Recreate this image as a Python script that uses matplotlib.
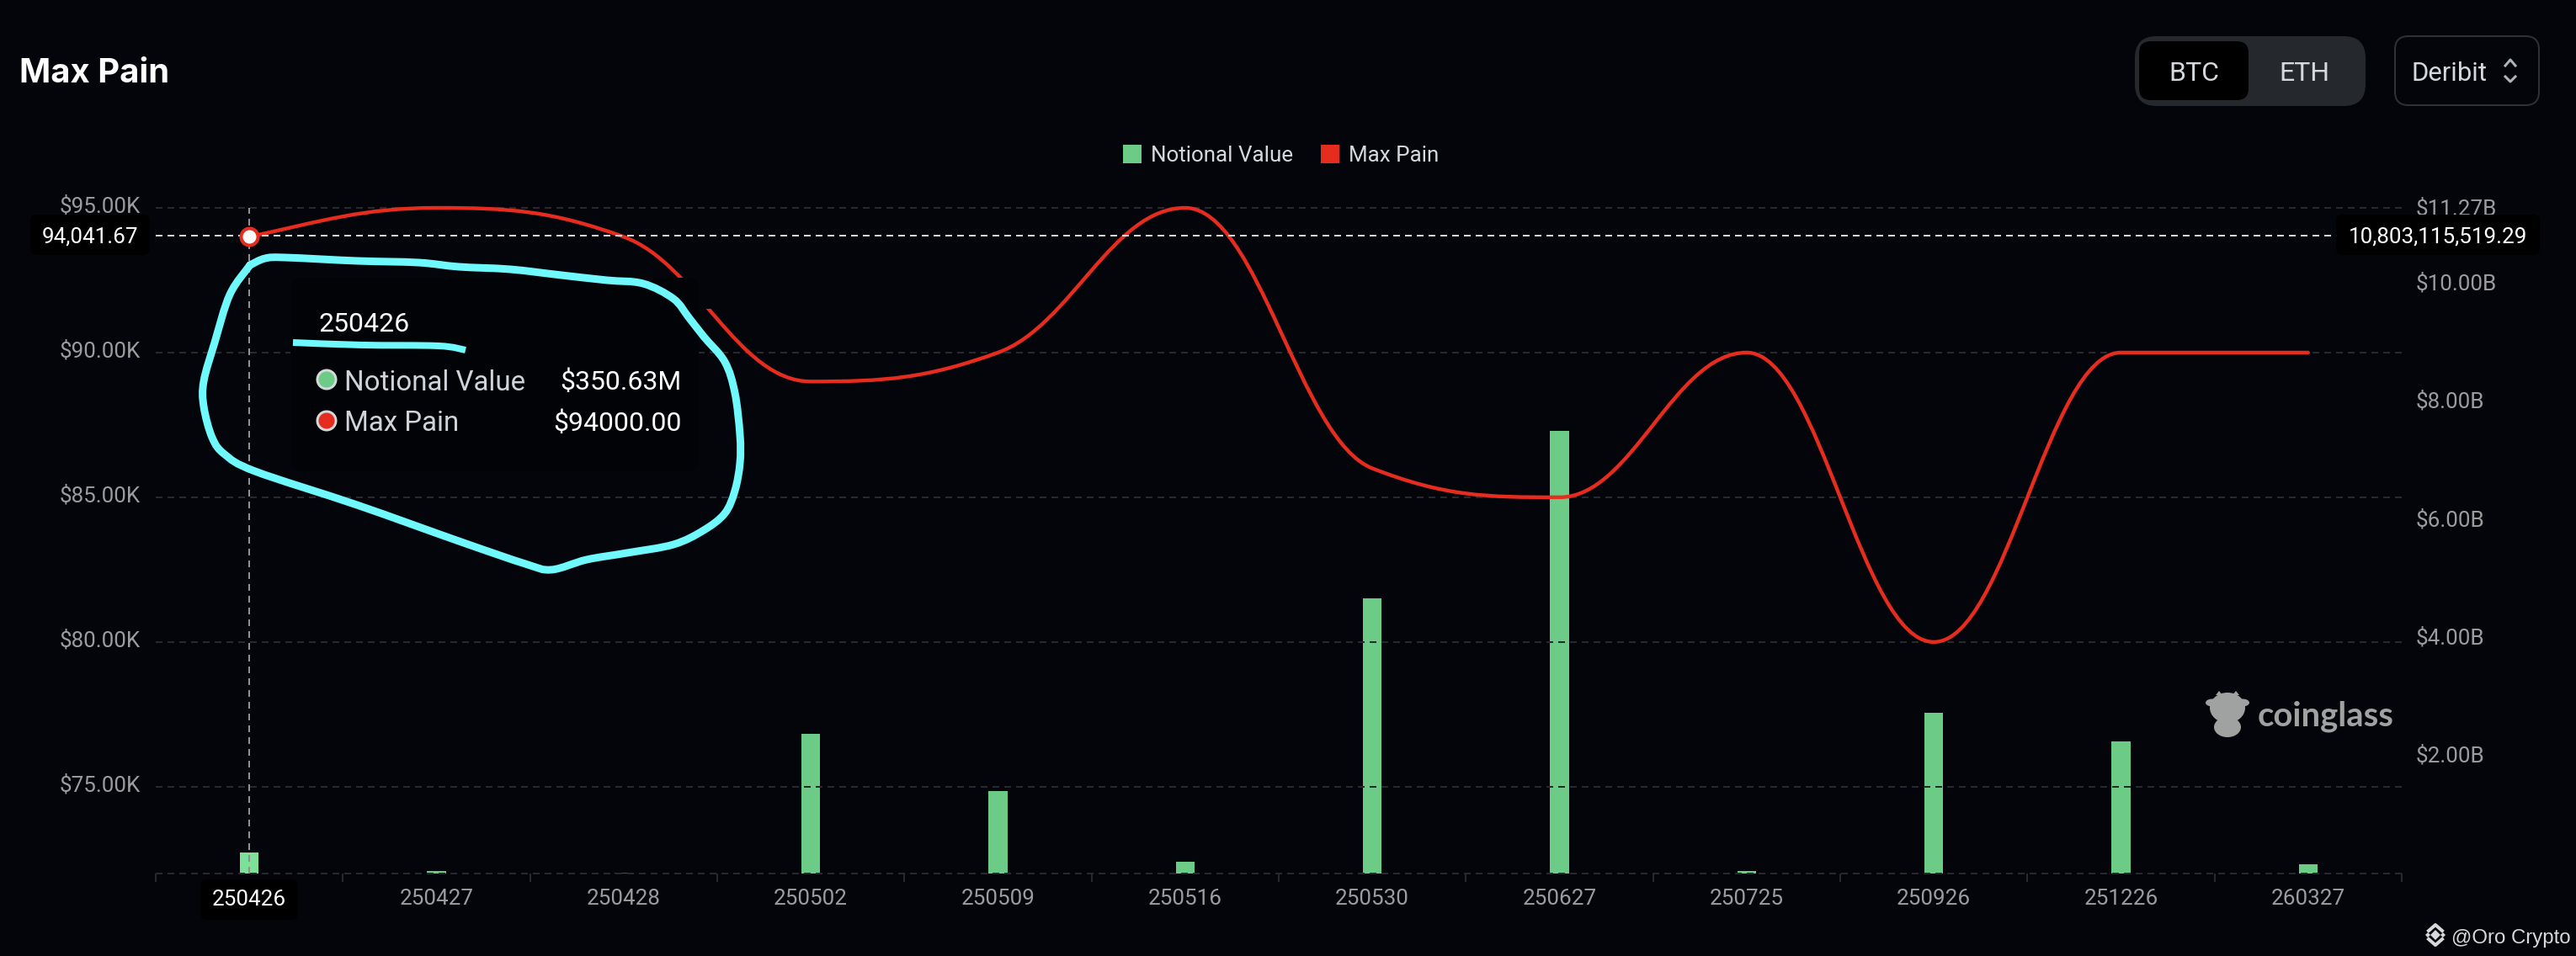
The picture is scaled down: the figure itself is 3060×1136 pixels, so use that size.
import matplotlib
matplotlib.use("Agg")
import matplotlib.pyplot as plt
import numpy as np
from matplotlib.patches import FancyBboxPatch, PathPatch, Rectangle, Ellipse, Polygon, Circle
from matplotlib.path import Path
from matplotlib.transforms import ScaledTranslation

W, H = 3060, 1136
BG = "#03050A"
GRID = "#26292D"
TICK_TEXT = "#9A9C9E"
GREEN = "#6CCB86"
GREEN_HOVER = "#7EDF98"
RED = "#E62C1E"
CYAN = "#6FF9FC"

expiries = ["250426", "250427", "250428", "250502", "250509", "250516",
            "250530", "250627", "250725", "250926", "251226", "260327"]
notional_value = [0.35063e9, 0.04e9, 0.015e9, 2.36e9, 1.39e9, 0.2e9,
                  4.66e9, 7.49e9, 0.04e9, 2.72e9, 2.23e9, 0.155e9]
max_pain = [94000, 95000, 94000, 89000, 90000, 95000,
            86000, 85000, 90000, 80000, 90000, 90000]

left_ticks = [75000, 80000, 85000, 90000, 95000]
left_labels = ["$75.00K", "$80.00K", "$85.00K", "$90.00K", "$95.00K"]
right_ticks = [2e9, 4e9, 6e9, 8e9, 10e9, 11.27e9]
right_labels = ["$2.00B", "$4.00B", "$6.00B", "$8.00B", "$10.00B", "$11.27B"]

# hand drawn circle round the tooltip, in picture pixels
scribble_x = [297, 315, 339, 424, 497, 545, 606, 667, 721, 764, 800, 818, 836, 861, 873, 879,
              879, 873, 861, 836, 800, 745, 697, 655, 624, 545, 424, 303, 267, 252, 242, 242, 255, 273, 297]
scribble_y = [315, 307, 306, 310, 312, 317, 320, 327, 333, 337, 355, 377, 400, 430, 467, 517,
              550, 583, 610, 630, 647, 657, 665, 677, 670, 643, 600, 560, 540, 520, 483, 453, 407, 350, 315]
underline_x = [348, 430, 521, 553]
underline_y = [407, 410, 411, 416]


def smooth_path(x, y, arm=0.39, gain=1.4):
    # bezier through the points, flat at turning points and where one side is flat
    x = np.asarray(x, dtype=float)
    y = np.asarray(y, dtype=float)
    d = np.diff(y) / np.diff(x)
    m = np.zeros(len(x))
    m[0] = d[0] * gain
    for i in range(1, len(x) - 1):
        if d[i - 1] * d[i] > 0:
            m[i] = gain * 2 * d[i - 1] * d[i] / (d[i - 1] + d[i])
    verts = [(x[0], y[0])]
    codes = [Path.MOVETO]
    for i in range(len(x) - 1):
        h = (x[i + 1] - x[i]) * arm
        verts += [(x[i] + h, y[i] + m[i] * h), (x[i + 1] - h, y[i + 1] - m[i + 1] * h), (x[i + 1], y[i + 1])]
        codes += [Path.CURVE4] * 3
    return Path(verts, codes)


def catmull(px_, py_):
    # freehand stroke
    pts = np.column_stack([px_, py_]).astype(float)
    p = np.vstack([pts[0], pts, pts[-1]])
    verts = [tuple(pts[0])]
    codes = [Path.MOVETO]
    for i in range(1, len(p) - 2):
        c1 = p[i] + (p[i + 1] - p[i - 1]) / 6
        c2 = p[i + 1] - (p[i + 2] - p[i]) / 6
        verts += [tuple(c1), tuple(c2), tuple(p[i + 1])]
        codes += [Path.CURVE4] * 3
    return Path(verts, codes)


def px(size):
    return size * 0.72


fig = plt.figure(figsize=(W / 100, H / 100), dpi=100, facecolor=BG)
plt.rcParams["font.family"] = ["Roboto", "DejaVu Sans"]

ax = fig.add_axes([185 / W, 1 - 1038 / H, 2668 / W, 791 / H])
ax2 = ax.twinx()
ax.set_zorder(2)
ax.patch.set_visible(False)
ax2.set_facecolor(BG)
positions = np.arange(len(expiries))

# bars, right axis
bar_colors = [GREEN_HOVER] + [GREEN] * (len(expiries) - 1)
bar_colors[2] = "#2F5A50"
ax2.bar(positions, notional_value, width=0.1, color=bar_colors, zorder=3)
ax2.set_ylim(0, 11.27e9)
ax2.set_yticks(right_ticks)
ax2.set_yticklabels(right_labels, fontsize=px(26), color=TICK_TEXT, va="center_baseline")
ax2.tick_params(axis="y", length=0, pad=px(17))

# line, left axis
ax.set_xlim(-0.5, len(expiries) - 0.5)
ax.set_ylim(72000, 95000)
ax.add_patch(PathPatch(smooth_path(positions, max_pain), fill=False, edgecolor=RED,
                       lw=px(4.4), capstyle="round", clip_on=False, zorder=4))
ax.set_yticks(left_ticks)
ax.set_yticklabels(left_labels, fontsize=px(26), color=TICK_TEXT, va="center_baseline")
ax.tick_params(axis="y", length=0, pad=px(18))
ax.grid(axis="y", color=GRID, lw=px(2), linestyle=(0, (4, 3)), zorder=1)
ax.axhline(72000, color=GRID, lw=px(2), linestyle=(0, (4, 3)), clip_on=False)
ax.axhline(95000, color=GRID, lw=px(2), linestyle=(0, (4, 3)), clip_on=False)

# axis labels sit a little above their grid lines
for t in ax.get_yticklabels():
    t.set_transform(t.get_transform() + ScaledTranslation(0, 3 / 72, fig.dpi_scale_trans))
for t in ax2.get_yticklabels():
    t.set_transform(t.get_transform() + ScaledTranslation(0, 1 / 72, fig.dpi_scale_trans))

ax.set_xticks(positions)
ax.set_xticklabels(expiries, fontsize=px(26), color=TICK_TEXT)
ax.tick_params(axis="x", which="major", length=0, pad=px(18))
ax.set_xticks(np.r_[positions - 0.5, positions[-1] + 0.5], minor=True)
ax.tick_params(axis="x", which="minor", length=px(10), width=px(2), color=GRID)
for a in (ax, ax2):
    for s in a.spines.values():
        s.set_visible(False)

# crosshair
ax.axvline(0, color="#8E9094", lw=px(2), linestyle=(0, (4, 3)), zorder=5)
ax.axhline(94041.67, color="#D8D9DA", lw=px(2), linestyle=(0, (4, 3)), zorder=5)
ax.plot([0], [max_pain[0]], "o", ms=px(20), mfc="white", mec=RED, mew=px(4), zorder=6, clip_on=False)

# everything that is not chart goes on a picture-pixel layer
ov = fig.add_axes([0, 0, 1, 1], zorder=5)
ov.set_xlim(0, W)
ov.set_ylim(H, 0)
ov.axis("off")


def box(x0, y0, x1, y1, r, fc, ec="none", lw=0, z=2):
    ov.add_patch(FancyBboxPatch((x0 + r, y0 + r), x1 - x0 - 2 * r, y1 - y0 - 2 * r,
                                boxstyle="round,pad=%f,rounding_size=%f" % (r, r),
                                fc=fc, ec=ec, lw=lw, zorder=z))


def label(x, y, s, size, color, ha="left", weight="normal", family=None, z=6):
    ov.text(x, y, s, fontsize=px(size), color=color, ha=ha, va="center_baseline", fontweight=weight,
            family=family or ["Roboto", "DejaVu Sans"], zorder=z)


# gap in the red line
ov.add_patch(Rectangle((814, 327), 30, 40, fc=BG, ec="none", zorder=1))

# header
label(23, 84, "Max Pain", 40, "white", weight="bold", family=["Inter", "DejaVu Sans"])
box(2536, 43, 2810, 126, 26, "#25292D")
box(2541, 49, 2671, 119, 14, "#000000", z=3)
label(2606, 85, "BTC", 32, "#D5D9DE", ha="center")
label(2737, 85, "ETH", 32, "#D5D9DE", ha="center")
box(2845, 43, 3016, 125, 16, BG, ec="#2E3236", lw=px(2))
label(2865, 85, "Deribit", 31, "#D5D9DE")
ov.plot([2976, 2982, 2988], [78, 71, 78], color="#B0B4B8", lw=px(3))
ov.plot([2976, 2982, 2988], [91, 97, 91], color="#B0B4B8", lw=px(3))

# legend
ov.add_patch(Rectangle((1334, 172), 22, 22, fc=GREEN, ec="none"))
label(1367, 183, "Notional Value", 26, "#D5D9DE")
ov.add_patch(Rectangle((1569, 172), 22, 22, fc=RED, ec="none"))
label(1602, 183, "Max Pain", 26, "#D5D9DE")

# crosshair labels
box(36, 255, 178, 303, 8, "#000000")
label(107, 279, "94,041.67", 26, "white", ha="center")
box(2775, 255, 3017, 303, 8, "#000000")
label(2896, 279, "10,803,115,519.29", 26, "white", ha="center")
box(238, 1045, 354, 1093, 8, "#000000")
label(296, 1067, expiries[0], 26, "white", ha="center")

# tooltip
box(345, 330, 830, 560, 14, "#020306", z=1)
label(379, 382, expiries[0], 32, "white")
label(409, 451, "Notional Value", 33, "#D0D4DA")
label(810, 451, "$350.63M", 32, "white", ha="right")
label(409, 500, "Max Pain", 33, "#D0D4DA")
label(810, 500, "$94000.00", 32, "white", ha="right")
for yy, c in ((451, GREEN), (500, RED)):
    ov.add_patch(Circle((388, yy), 11, fc=c, ec="#D5D8DA", lw=px(3), zorder=5))

# hand drawn marks
ov.add_patch(PathPatch(catmull(scribble_x, scribble_y), fill=False, ec=CYAN, lw=px(9), capstyle="round", zorder=7))
ov.add_patch(PathPatch(catmull(underline_x, underline_y), fill=False, ec=CYAN, lw=px(8), capstyle="butt", zorder=7))

# coinglass mark
LOGO = "#A0A2A2"
ov.add_patch(Ellipse((2646, 841), 42, 36, fc=LOGO, ec="none", zorder=3))
ov.add_patch(Ellipse((2646, 864), 32, 24, fc=LOGO, ec="none", zorder=3))
ov.add_patch(Ellipse((2628, 835), 16, 9, fc=LOGO, ec="none", zorder=3))
ov.add_patch(Ellipse((2664, 835), 16, 9, fc=LOGO, ec="none", zorder=3))
ov.add_patch(Polygon([(2632, 826), (2636, 821), (2640, 826)], fc=LOGO, ec="none", zorder=3))
ov.add_patch(Polygon([(2652, 826), (2656, 821), (2660, 826)], fc=LOGO, ec="none", zorder=3))
label(2682, 847, "coinglass", 40, LOGO, weight="bold", family=["Lato", "DejaVu Sans"])

# repost watermark
WM = "#D8D8D8"
for cx, cy, r in ((2893, 1111, 6), (2884, 1111, 3), (2902, 1111, 3)):
    ov.add_patch(Polygon([(cx - r, cy), (cx, cy - r), (cx + r, cy), (cx, cy + r)], fc=WM, ec="none", zorder=3))
ov.plot([2885, 2893, 2901], [1106, 1099, 1106], color=WM, lw=px(4), zorder=3)
ov.plot([2885, 2893, 2901], [1116, 1123, 1116], color=WM, lw=px(4), zorder=3)
label(2912, 1113, "@Oro Crypto", 24, WM, family=["Liberation Sans", "DejaVu Sans"])

fig.savefig("out.png", dpi=100, facecolor=BG)
